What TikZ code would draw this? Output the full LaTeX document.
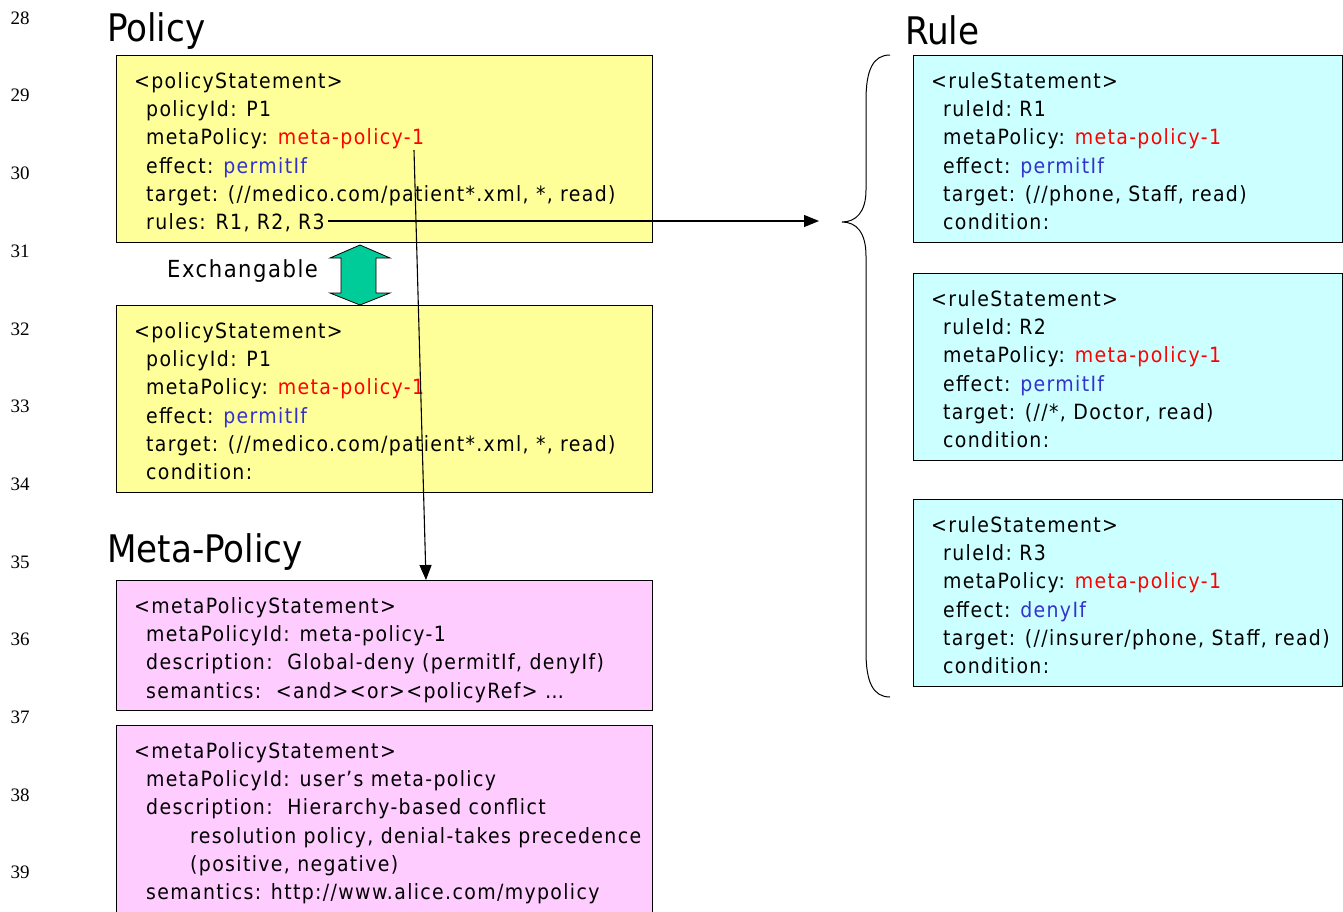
\documentclass[tikz,border=0pt]{standalone}
\usepackage{fontspec}
\setmainfont{DejaVu Sans Condensed}
\newfontfamily\bodyfont[LetterSpace=6.5]{DejaVu Sans Condensed}
\newfontfamily\numfont{Liberation Serif}
\usetikzlibrary{arrows.meta}

\definecolor{polyellow}{HTML}{FFFF99}
\definecolor{rulecyan}{HTML}{CCFFFF}
\definecolor{metapink}{HTML}{FFCCFF}
\definecolor{xgreen}{HTML}{00CC99}
\definecolor{kwred}{HTML}{FF0000}
\definecolor{kwblue}{HTML}{3333CC}

\newcommand{\kwr}[1]{\textcolor{kwred}{#1}}
\newcommand{\kwb}[1]{\textcolor{kwblue}{#1}}
% one line of statement text, placed on its baseline
\newcommand{\tline}[4]{\node[bodytext] (#1) at (#2,#3) {#4};}

\tikzset{
  stmtbox/.style={draw=black, line width=0.9pt, inner sep=0pt, anchor=north west},
  bodytext/.style={anchor=base west, inner sep=0pt, font=\bodyfont\fontsize{21}{24}\selectfont},
  heading/.style={anchor=west, inner sep=0pt, font=\fontsize{38}{44}\selectfont},
  linenum/.style={inner sep=0pt, font=\numfont\fontsize{19}{22}\selectfont},
  conn/.style={draw=black, line width=1.1pt, -{Triangle[length=15pt,width=12pt]}},
}

\begin{document}
\begin{tikzpicture}[x=1pt,y=-1pt]
\clip (0,0) rectangle (1343,911);
\fill[white] (0,0) rectangle (1343,911);

% line numbers in the margin
\foreach \n [count=\i from 0] in {28,...,39}
  \node[linenum] (ln\n) at (20,18+77.7*\i) {\n};

% headings
\node[heading] (hpolicy) at (107,31) {Policy};
\node[heading] (hmeta) at (107,552) {Meta-Policy};
\node[heading] (hrule) at (905,30) {Rule};

% ---------- policy statements ----------
\node[stmtbox, fill=polyellow, minimum width=536pt, minimum height=187pt] (pol1) at (116,55) {};
\tline{p1a}{134}{88.5}{<policyStatement>}
\tline{p1b}{146}{116.7}{policyId: P1}
\tline{p1c}{146}{144.9}{metaPolicy: \kwr{meta-policy-1}}
\tline{p1d}{146}{173.1}{effect: \kwb{permitIf}}
\tline{p1e}{146}{201.3}{target: (//medico.com/patient*.xml, *, read)}
\tline{p1f}{146}{229.5}{rules: R1, R2, R3}

\node[stmtbox, fill=polyellow, minimum width=536pt, minimum height=187pt] (pol2) at (116,305) {};
\tline{p2a}{134}{338.5}{<policyStatement>}
\tline{p2b}{146}{366.7}{policyId: P1}
\tline{p2c}{146}{394.9}{metaPolicy: \kwr{meta-policy-1}}
\tline{p2d}{146}{423.1}{effect: \kwb{permitIf}}
\tline{p2e}{146}{451.3}{target: (//medico.com/patient*.xml, *, read)}
\tline{p2f}{146}{479.5}{condition:}

% exchangeable marker
\node[anchor=west, inner sep=0pt, font=\bodyfont\fontsize{23.5}{28}\selectfont] (exch) at (167,271) {Exchangable};
\draw[black, line width=0.8pt, fill=xgreen]
  (360,245) -- (390,258) -- (376,258) -- (376,293) -- (390,293) -- (360,305)
  -- (330,293) -- (341,293) -- (341,258) -- (330,258) -- cycle;

% ---------- meta-policy statements ----------
\node[stmtbox, fill=metapink, minimum width=536pt, minimum height=130pt] (meta1) at (116,580) {};
\tline{m1a}{134}{613.5}{<metaPolicyStatement>}
\tline{m1b}{146}{641.7}{metaPolicyId: meta-policy-1}
\tline{m1c}{146}{669.9}{description:\ \ Global-deny (permitIf, denyIf)}
\tline{m1d}{146}{698.1}{semantics:\ \ <and><or><policyRef> \dots}

\node[stmtbox, fill=metapink, minimum width=536pt, minimum height=220pt] (meta2) at (116,725) {};
\tline{m2a}{134}{758.5}{<metaPolicyStatement>}
\tline{m2b}{146}{786.7}{metaPolicyId: user’s meta-policy}
\tline{m2c}{146}{814.9}{description:\ \ Hierarchy-based conflict}
\tline{m2d}{190}{843.1}{resolution policy, denial-takes precedence}
\tline{m2e}{190}{871.3}{(positive, negative)}
\tline{m2f}{146}{899.5}{semantics: http://www.alice.com/mypolicy}

% ---------- rule statements ----------
\node[stmtbox, fill=rulecyan, minimum width=429pt, minimum height=187pt] (rule1) at (913,55) {};
\tline{r1a}{931}{88.5}{<ruleStatement>}
\tline{r1b}{943}{116.7}{ruleId:\ R1}
\tline{r1c}{943}{144.9}{metaPolicy: \kwr{meta-policy-1}}
\tline{r1d}{943}{173.1}{effect: \kwb{permitIf}}
\tline{r1e}{943}{201.3}{target: (//phone, Staff, read)}
\tline{r1f}{943}{229.5}{condition:}

\node[stmtbox, fill=rulecyan, minimum width=429pt, minimum height=187pt] (rule2) at (913,273) {};
\tline{r2a}{931}{306.5}{<ruleStatement>}
\tline{r2b}{943}{334.7}{ruleId:\ R2}
\tline{r2c}{943}{362.9}{metaPolicy: \kwr{meta-policy-1}}
\tline{r2d}{943}{391.1}{effect: \kwb{permitIf}}
\tline{r2e}{943}{419.3}{target: (//*, Doctor, read)}
\tline{r2f}{943}{447.5}{condition:}

\node[stmtbox, fill=rulecyan, minimum width=429pt, minimum height=187pt] (rule3) at (913,499) {};
\tline{r3a}{931}{532.5}{<ruleStatement>}
\tline{r3b}{943}{560.7}{ruleId:\ R3}
\tline{r3c}{943}{588.9}{metaPolicy: \kwr{meta-policy-1}}
\tline{r3d}{943}{617.1}{effect: \kwb{denyIf}}
\tline{r3e}{943}{645.3}{target: (//insurer/phone, Staff, read)}
\tline{r3f}{943}{673.5}{condition:}

% brace grouping the rules
\draw[black, line width=1pt]
  (890,55) .. controls (873,55) and (866,70) .. (866,100) -- (866,190)
  .. controls (866,212) and (856,222) .. (842,222)
  .. controls (856,222) and (866,232) .. (866,256) -- (866,652)
  .. controls (866,682) and (873,697) .. (890,697);

% connectors
\coordinate (rulesend) at (328,221);
\coordinate (bracetip) at (819,221);
\draw[conn] (rulesend) -- (bracetip);

\coordinate (metaref) at (414,150);
\coordinate (metatop) at (426,580);
\draw[conn] (metaref) -- (metatop);
\end{tikzpicture}
\end{document}
